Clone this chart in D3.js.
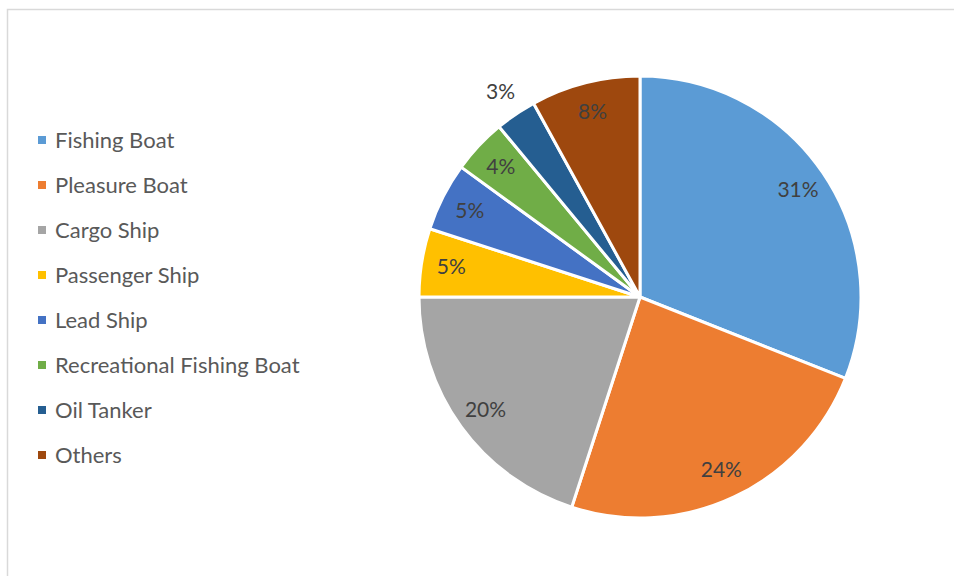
<!DOCTYPE html>
<html>
<head>
<meta charset="utf-8">
<script src="https://cdn.jsdelivr.net/npm/d3@7"></script>
<style>
  html, body { margin: 0; padding: 0; background: #fff; }
  svg { display: block; }
</style>
</head>
<body>
<svg id="chart" width="954" height="576"></svg>
<script>
// Vessel categories and their share of the total (percent)
const categories = ["Fishing Boat", "Pleasure Boat", "Cargo Ship", "Passenger Ship",
                    "Lead Ship", "Recreational Fishing Boat", "Oil Tanker", "Others"];
const shares = [31, 24, 20, 5, 5, 4, 3, 8];
const colors = ["#5B9BD5", "#ED7D31", "#A5A5A5", "#FFC000",
                "#4472C4", "#70AD47", "#255E91", "#9E480E"];

const W = 954, H = 576;
const svg = d3.select("#chart");
const FONT = "Lato, 'Open Sans', sans-serif";

// Chart area frame
svg.append("rect")
  .attr("x", 7.5).attr("y", 9.5)
  .attr("width", W + 10).attr("height", H + 10)
  .attr("fill", "none")
  .attr("stroke", "#d9d9d9")
  .attr("stroke-width", 1.5);

const data = categories.map((c, i) => ({ name: c, value: shares[i], color: colors[i] }));

const cx = 640, cy = 297, R = 221;

const pie = d3.pie().value(d => d.value).sort(null);
const arcs = pie(data);

const arc = d3.arc().innerRadius(0).outerRadius(R);
const labelArc = d3.arc().innerRadius(191).outerRadius(191);
const outerLabelArc = d3.arc().innerRadius(248).outerRadius(248);

const g = svg.append("g").attr("transform", `translate(${cx},${cy})`);

g.selectAll("path.slice")
  .data(arcs)
  .join("path")
  .attr("class", "slice")
  .attr("d", arc)
  .attr("fill", d => d.data.color)
  .attr("stroke", "#fff")
  .attr("stroke-width", 3)
  .attr("stroke-linejoin", "round");

// Percentage labels; the thinnest slice gets its label outside the pie
g.selectAll("text.pct")
  .data(arcs)
  .join("text")
  .attr("class", "pct")
  .attr("transform", d => {
    const p = (d.data.value <= 3 ? outerLabelArc : labelArc).centroid(d);
    return `translate(${p[0]},${p[1]})`;
  })
  .attr("text-anchor", "middle")
  .attr("dy", "0.35em")
  .attr("font-family", FONT)
  .attr("font-size", 21)
  .attr("fill", "#404040")
  .text(d => d3.format(".0%")(d.data.value / 100));

// Legend
const legend = svg.append("g").attr("transform", "translate(38,0)");
const y = d3.scalePoint().domain(categories).range([140, 455]);

const rows = legend.selectAll("g.row")
  .data(data)
  .join("g")
  .attr("class", "row")
  .attr("transform", d => `translate(0,${y(d.name)})`);

rows.append("rect")
  .attr("x", 0).attr("y", -4)
  .attr("width", 8).attr("height", 8)
  .attr("fill", d => d.color);

rows.append("text")
  .attr("x", 17)
  .attr("dy", "0.35em")
  .attr("font-family", FONT)
  .attr("font-size", 22)
  .attr("fill", "#595959")
  .text(d => d.name);
</script>
</body>
</html>
